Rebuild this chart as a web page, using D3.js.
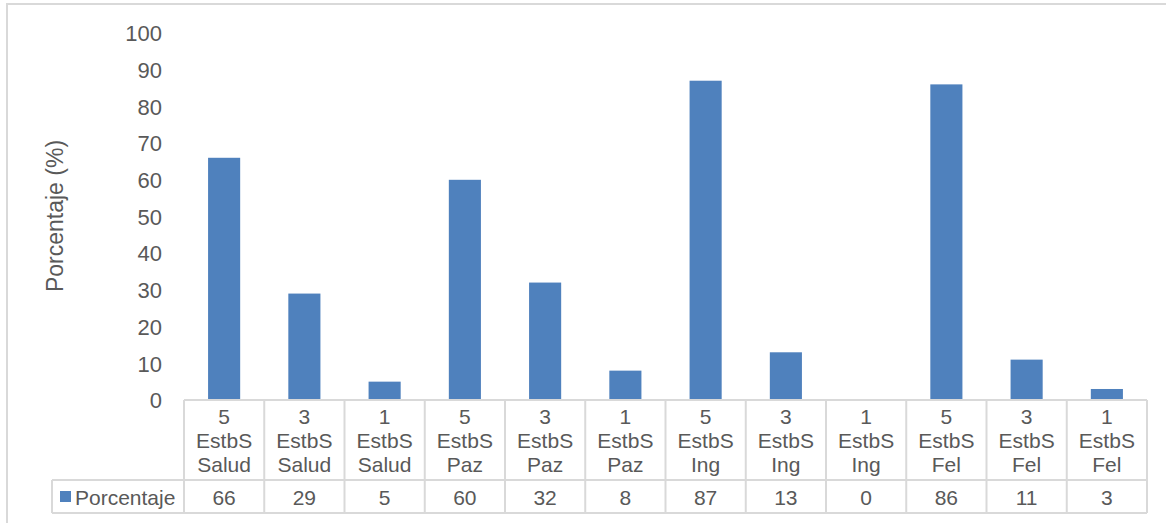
<!DOCTYPE html>
<html>
<head>
<meta charset="utf-8">
<script src="https://cdn.jsdelivr.net/npm/d3@7"></script>
<style>
  html, body { margin: 0; padding: 0; background: #fff; }
  svg { display: block; font-family: "Liberation Sans", Arial, sans-serif; }
</style>
</head>
<body>
<svg id="chart" width="1166" height="523"></svg>
<script>
// Category labels (three lines each) and values of the single series
const categories = [
  ["5", "EstbS", "Salud"], ["3", "EstbS", "Salud"], ["1", "EstbS", "Salud"],
  ["5", "EstbS", "Paz"],   ["3", "EstbS", "Paz"],   ["1", "EstbS", "Paz"],
  ["5", "EstbS", "Ing"],   ["3", "EstbS", "Ing"],   ["1", "EstbS", "Ing"],
  ["5", "EstbS", "Fel"],   ["3", "EstbS", "Fel"],   ["1", "EstbS", "Fel"]
];
const values = [66, 29, 5, 60, 32, 8, 87, 13, 0, 86, 11, 3];
const seriesName = "Porcentaje";
const yTicks = [0, 10, 20, 30, 40, 50, 60, 70, 80, 90, 100];
const yTitle = "Porcentaje (%)";

const svg = d3.select("#chart");
const textColor = "#595959";
const gridColor = "#d9d9d9";
const barColor = "#4f81bd";

const plot = { left: 184, right: 1147, top: 33, bottom: 400 };
const tableRows = { catBottom: 480, valBottom: 513, legendLeft: 52 };

// outer chart frame
svg.append("path")
  .attr("d", "M7,523 V4 H1166")
  .attr("fill", "none")
  .attr("stroke", gridColor)
  .attr("stroke-width", 2);

const idx = d3.range(categories.length);
const x = d3.scaleBand().domain(idx).range([plot.left, plot.right]).paddingInner(0).paddingOuter(0);
const y = d3.scaleLinear().domain([0, 100]).range([plot.bottom, plot.top]);

// y axis labels only (no line, no tick marks)
const yAxis = d3.axisLeft(y).tickValues(yTicks).tickSize(0).tickPadding(0);
const yg = svg.append("g").attr("transform", "translate(162,0)").call(yAxis);
yg.select(".domain").remove();
yg.selectAll("text")
  .attr("fill", textColor)
  .style("font-size", "22px")
  .attr("dy", "0.35em");

// y axis title
svg.append("text")
  .attr("transform", "translate(63,216) rotate(-90)")
  .attr("text-anchor", "middle")
  .attr("fill", textColor)
  .style("font-size", "23px")
  .text(yTitle);

// bars
const barW = x.bandwidth() * 0.4;
svg.append("g").selectAll("rect")
  .data(values)
  .join("rect")
  .attr("x", (d, i) => x(i) + (x.bandwidth() - barW) / 2)
  .attr("y", d => y(d))
  .attr("width", barW)
  .attr("height", d => y(0) - y(d))
  .attr("fill", barColor);

// data table grid
const grid = svg.append("g")
  .attr("stroke", gridColor)
  .attr("stroke-width", 2)
  .attr("fill", "none");
grid.append("line").attr("x1", plot.left).attr("x2", plot.right).attr("y1", plot.bottom).attr("y2", plot.bottom);
grid.append("line").attr("x1", tableRows.legendLeft).attr("x2", plot.right).attr("y1", tableRows.catBottom).attr("y2", tableRows.catBottom);
grid.append("line").attr("x1", tableRows.legendLeft).attr("x2", plot.right).attr("y1", tableRows.valBottom).attr("y2", tableRows.valBottom);
grid.append("line").attr("x1", tableRows.legendLeft).attr("x2", tableRows.legendLeft).attr("y1", tableRows.catBottom).attr("y2", tableRows.valBottom);
idx.concat([categories.length]).forEach(i => {
  const xx = i < categories.length ? x(i) : plot.right;
  grid.append("line").attr("x1", xx).attr("x2", xx).attr("y1", plot.bottom).attr("y2", tableRows.valBottom);
});

// category labels
const catG = svg.append("g")
  .attr("fill", textColor)
  .attr("text-anchor", "middle")
  .style("font-size", "21px");
categories.forEach((lines, i) => {
  const cx = x(i) + x.bandwidth() / 2;
  lines.forEach((ln, k) => {
    catG.append("text")
      .attr("x", cx)
      .attr("y", 417 + k * 24)
      .attr("dy", "0.35em")
      .text(ln);
  });
});

// value row
const valY = (tableRows.catBottom + tableRows.valBottom) / 2 + 1;
svg.append("g")
  .attr("fill", textColor)
  .attr("text-anchor", "middle")
  .style("font-size", "21px")
  .selectAll("text")
  .data(values)
  .join("text")
  .attr("x", (d, i) => x(i) + x.bandwidth() / 2)
  .attr("y", valY)
  .attr("dy", "0.35em")
  .text(d => d);

// legend key in the table
svg.append("rect")
  .attr("x", 60).attr("y", 491)
  .attr("width", 11).attr("height", 11)
  .attr("fill", barColor);
svg.append("text")
  .attr("x", 75).attr("y", valY)
  .attr("dy", "0.35em")
  .attr("fill", textColor)
  .style("font-size", "21px")
  .text(seriesName);
</script>
</body>
</html>
